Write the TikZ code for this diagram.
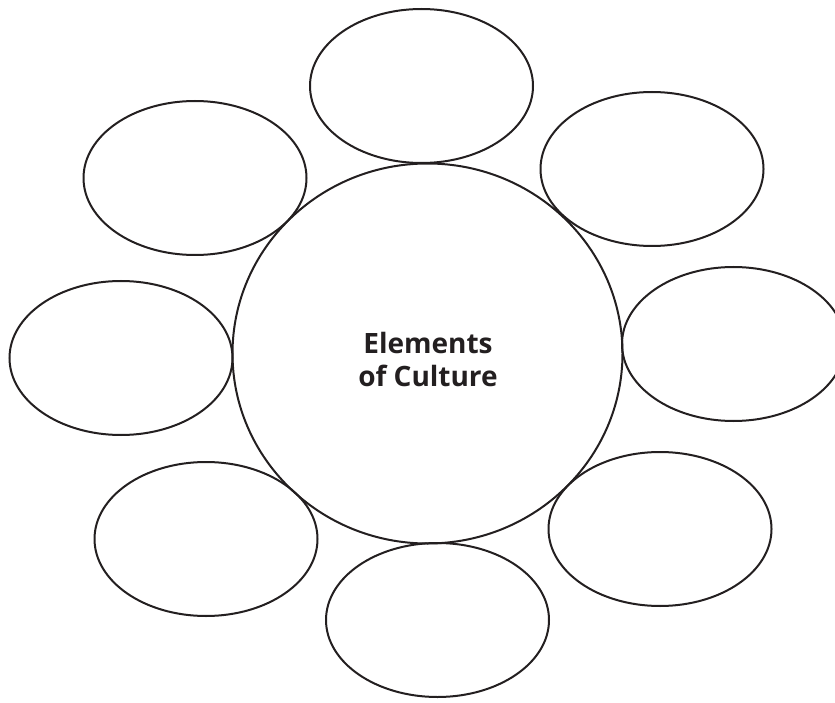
\documentclass[tikz,border=0pt]{standalone}
\usepackage{fontspec}
\setmainfont{Open Sans}
\usetikzlibrary{shapes.geometric}
\definecolor{ink}{HTML}{231F20}
\tikzset{
  bubble/.style={ellipse, draw=ink, line width=2pt, inner sep=0pt,
                 minimum width=223pt, minimum height=154pt},
  hub/.style={ellipse, draw=ink, line width=2pt, inner sep=0pt,
              minimum width=390pt, minimum height=380pt},
  title/.style={font=\fontsize{28}{33}\selectfont\bfseries, text=ink, align=center}
}
\begin{document}
\begin{tikzpicture}[x=1pt,y=-1pt]
\useasboundingbox (0,0) rectangle (835,703);
\node[hub] (c) at (427.5,353.5) {};
\node[bubble] (t)  at (421.5,86) {};
\node[bubble] (tl) at (195,178) {};
\node[bubble] (tr) at (652,169) {};
\node[bubble] (l)  at (121,358) {};
\node[bubble] (r)  at (733.5,344) {};
\node[bubble] (bl) at (206,539) {};
\node[bubble] (br) at (660,529) {};
\node[bubble] (b)  at (437.5,620) {};
\node[title] (lab) at (428,359) {Elements\\of Culture};
\end{tikzpicture}
\end{document}
